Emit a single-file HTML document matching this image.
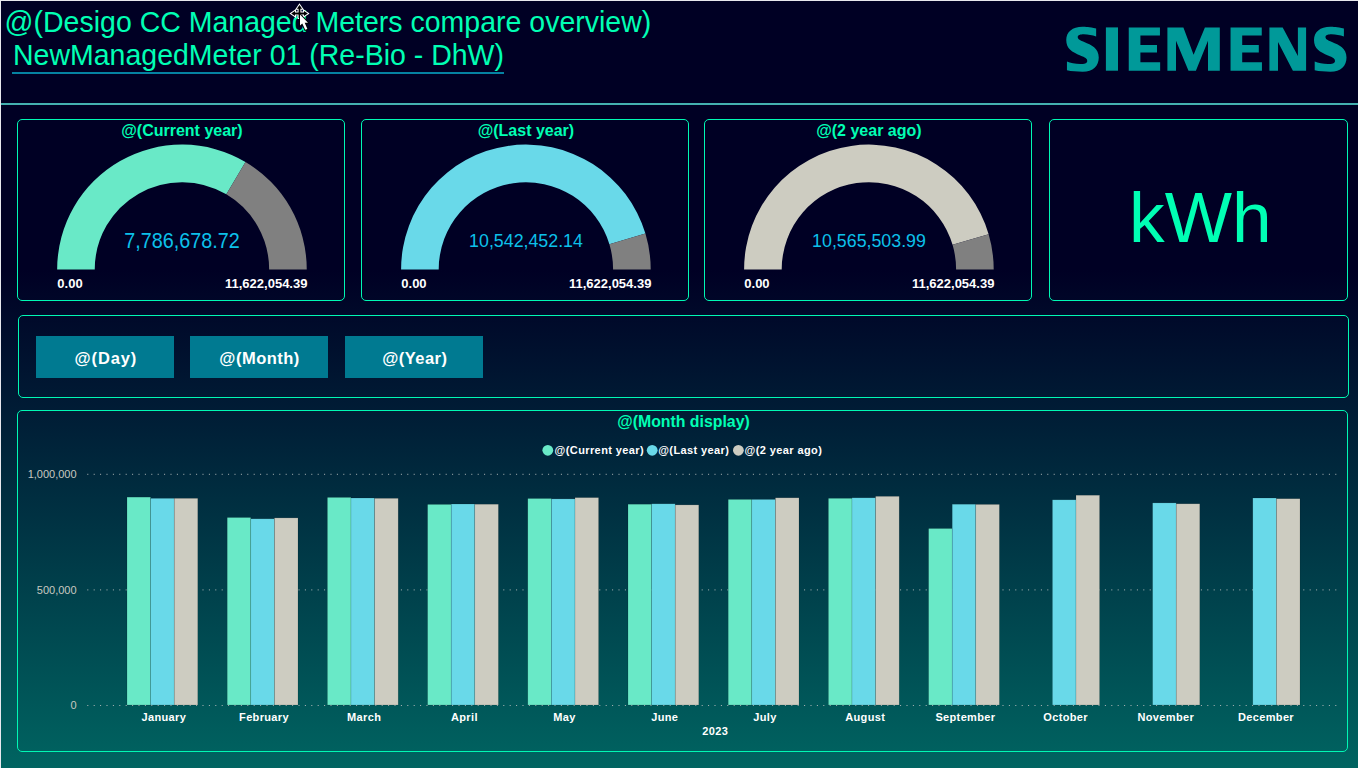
<!DOCTYPE html>
<html><head><meta charset="utf-8"><style>
html,body{margin:0;padding:0;}
body{width:1358px;height:768px;overflow:hidden;position:relative;font-family:"Liberation Sans",sans-serif;
background:linear-gradient(to bottom,#000024 0px,#000024 270px,#006461 768px);}
.edge-t{position:absolute;left:0;top:0;width:1358px;height:1px;background:#e8e8ee;}
.edge-l{position:absolute;left:0;top:0;width:1px;height:768px;background:#e8e8ee;}
.t1{position:absolute;left:4.6px;top:5px;font-size:28.5px;color:#00ffb4;white-space:nowrap;line-height:34px;transform:scaleY(1.05);transform-origin:0 27px;}
.t2{position:absolute;left:13px;top:38px;font-size:28.5px;color:#00ffb4;white-space:nowrap;line-height:34px;transform:scaleY(1.05);transform-origin:0 27px;}
.ul{position:absolute;left:12px;top:72px;width:492px;height:2px;background:#0582a2;}
.hr{position:absolute;left:1px;top:103px;width:1358px;height:2px;background:#44b0b0;}
.p{position:absolute;box-sizing:border-box;border:1px solid #00f8b4;border-radius:5px;}
svg{position:absolute;left:0;top:0;}
.gt{font:bold 16px "Liberation Sans",sans-serif;fill:#00ffb4;}
.gv{font:20px "Liberation Sans",sans-serif;fill:#0cc0ea;}
.gl{font:bold 13px "Liberation Sans",sans-serif;fill:#fff;}
.kwh{font:71.3px "Liberation Sans",sans-serif;fill:#00ffb4;}
.bt{font:bold 16.5px "Liberation Sans",sans-serif;fill:#fff;}
.ct{font:bold 15.85px "Liberation Sans",sans-serif;fill:#00ffb4;}
.lg{font:bold 11px "Liberation Sans",sans-serif;fill:#fff;letter-spacing:0.4px}
.yl{font:11px "Liberation Sans",sans-serif;fill:#c8c8c0;}
.xl{font:bold 11px "Liberation Sans",sans-serif;fill:#fff;letter-spacing:0.35px}
</style></head><body>
<div class="edge-t"></div><div class="edge-l"></div>
<div class="t1">@(Desigo CC Managed Meters compare overview)</div>
<div class="t2">NewManagedMeter 01 (Re-Bio - DhW)</div>
<div class="ul"></div>
<div class="hr"></div>
<div class="p" style="left:17px;top:119px;width:328px;height:182px"></div>
<div class="p" style="left:361px;top:119px;width:328px;height:182px"></div>
<div class="p" style="left:704px;top:119px;width:328px;height:182px"></div>
<div class="p" style="left:1049px;top:119px;width:299px;height:182px"></div>
<div class="p" style="left:18px;top:315px;width:1331px;height:83px"></div>
<div class="p" style="left:17px;top:410px;width:1331px;height:342px"></div>
<svg width="1358" height="768" viewBox="0 0 1358 768">
<path d="M57.15,269.40 A124.8,124.8 0 0 1 245.48,161.98 L226.34,194.34 A87.2,87.2 0 0 0 94.75,269.40 Z" fill="#69e9c7"/>
<path d="M245.48,161.98 A124.8,124.8 0 0 1 306.75,269.40 L269.15,269.40 A87.2,87.2 0 0 0 226.34,194.34 Z" fill="#808080"/>
<text x="181.95" y="135.5" class="gt" text-anchor="middle">@(Current year)</text>
<text x="182.04999999999998" y="248" class="gv" style="font-size:19.8px" text-anchor="middle" transform="translate(0,248) scale(1,1.07) translate(0,-248)">7,786,678.72</text>
<text x="57.349999999999994" y="288" class="gl">0.00</text>
<text x="307.45" y="288" class="gl" text-anchor="end">11,622,054.39</text>
<path d="M401.10,269.40 A124.8,124.8 0 0 1 645.42,233.49 L609.41,244.31 A87.2,87.2 0 0 0 438.70,269.40 Z" fill="#69d9e9"/>
<path d="M645.42,233.49 A124.8,124.8 0 0 1 650.70,269.40 L613.10,269.40 A87.2,87.2 0 0 0 609.41,244.31 Z" fill="#808080"/>
<text x="525.9" y="135.5" class="gt" text-anchor="middle">@(Last year)</text>
<text x="526.0" y="247" class="gv" style="font-size:17.8px" text-anchor="middle" transform="translate(0,247) scale(1,1.07) translate(0,-247)">10,542,452.14</text>
<text x="401.29999999999995" y="288" class="gl">0.00</text>
<text x="651.4" y="288" class="gl" text-anchor="end">11,622,054.39</text>
<path d="M744.10,269.40 A124.8,124.8 0 0 1 988.64,234.24 L952.57,244.83 A87.2,87.2 0 0 0 781.70,269.40 Z" fill="#cdccc1"/>
<path d="M988.64,234.24 A124.8,124.8 0 0 1 993.70,269.40 L956.10,269.40 A87.2,87.2 0 0 0 952.57,244.83 Z" fill="#808080"/>
<text x="868.9" y="135.5" class="gt" text-anchor="middle">@(2 year ago)</text>
<text x="869.0" y="247" class="gv" style="font-size:17.8px" text-anchor="middle" transform="translate(0,247) scale(1,1.07) translate(0,-247)">10,565,503.99</text>
<text x="744.3000000000001" y="288" class="gl">0.00</text>
<text x="994.4" y="288" class="gl" text-anchor="end">11,622,054.39</text>
<text x="1200.3" y="242" class="kwh" text-anchor="middle">kWh</text>
<rect x="36" y="336" width="138" height="42" fill="#007a91"/>
<text x="105.9" y="364" class="bt" text-anchor="middle" style="letter-spacing:0.9px">@(Day)</text>
<rect x="190" y="336" width="138" height="42" fill="#007a91"/>
<text x="259.6" y="364" class="bt" text-anchor="middle" style="letter-spacing:0.5px">@(Month)</text>
<rect x="345" y="336" width="138" height="42" fill="#007a91"/>
<text x="414.8" y="364" class="bt" text-anchor="middle" style="letter-spacing:0.45px">@(Year)</text>
<text x="683.5" y="427" class="ct" text-anchor="middle">@(Month display)</text>
<circle cx="547.8" cy="450.3" r="5.4" fill="#69e9c7"/>
<text x="554.6" y="454.1" class="lg">@(Current year)</text>
<circle cx="652.2" cy="450.3" r="5.4" fill="#69d9e9"/>
<text x="658.2" y="454.1" class="lg">@(Last year)</text>
<circle cx="738.4" cy="450.3" r="5.4" fill="#cdccc1"/>
<text x="744.6" y="454.1" class="lg">@(2 year ago)</text>
<text x="76.6" y="478" class="yl" text-anchor="end">1,000,000</text>
<line x1="87.3" y1="474.3" x2="1341" y2="474.3" stroke="#b0b8b8" stroke-width="1" stroke-dasharray="1 5.4"/>
<text x="76.6" y="594" class="yl" text-anchor="end">500,000</text>
<line x1="87.3" y1="589.9" x2="1341" y2="589.9" stroke="#b0b8b8" stroke-width="1" stroke-dasharray="1 5.4"/>
<text x="76.6" y="709" class="yl" text-anchor="end">0</text>
<line x1="87.3" y1="705.5" x2="1341" y2="705.5" stroke="#b0b8b8" stroke-width="1" stroke-dasharray="1 5.4"/>
<rect x="127.00" y="497.1" width="23.6" height="207.9" fill="#69e9c7" stroke="rgba(0,0,0,0.25)" stroke-width="0.5"/>
<rect x="150.60" y="498.3" width="23.6" height="206.7" fill="#69d9e9" stroke="rgba(0,0,0,0.25)" stroke-width="0.5"/>
<rect x="174.20" y="498.3" width="23.6" height="206.7" fill="#cdccc1" stroke="rgba(0,0,0,0.25)" stroke-width="0.5"/>
<text x="163.8" y="721" class="xl" text-anchor="middle">January</text>
<rect x="227.20" y="517.5" width="23.6" height="187.5" fill="#69e9c7" stroke="rgba(0,0,0,0.25)" stroke-width="0.5"/>
<rect x="250.80" y="518.8" width="23.6" height="186.2" fill="#69d9e9" stroke="rgba(0,0,0,0.25)" stroke-width="0.5"/>
<rect x="274.40" y="517.9" width="23.6" height="187.1" fill="#cdccc1" stroke="rgba(0,0,0,0.25)" stroke-width="0.5"/>
<text x="264.0" y="721" class="xl" text-anchor="middle">February</text>
<rect x="327.40" y="497.4" width="23.6" height="207.6" fill="#69e9c7" stroke="rgba(0,0,0,0.25)" stroke-width="0.5"/>
<rect x="351.00" y="498" width="23.6" height="207.0" fill="#69d9e9" stroke="rgba(0,0,0,0.25)" stroke-width="0.5"/>
<rect x="374.60" y="498.3" width="23.6" height="206.7" fill="#cdccc1" stroke="rgba(0,0,0,0.25)" stroke-width="0.5"/>
<text x="364.2" y="721" class="xl" text-anchor="middle">March</text>
<rect x="427.60" y="504.4" width="23.6" height="200.6" fill="#69e9c7" stroke="rgba(0,0,0,0.25)" stroke-width="0.5"/>
<rect x="451.20" y="504" width="23.6" height="201.0" fill="#69d9e9" stroke="rgba(0,0,0,0.25)" stroke-width="0.5"/>
<rect x="474.80" y="504.2" width="23.6" height="200.8" fill="#cdccc1" stroke="rgba(0,0,0,0.25)" stroke-width="0.5"/>
<text x="464.4" y="721" class="xl" text-anchor="middle">April</text>
<rect x="527.80" y="498.5" width="23.6" height="206.5" fill="#69e9c7" stroke="rgba(0,0,0,0.25)" stroke-width="0.5"/>
<rect x="551.40" y="498.9" width="23.6" height="206.1" fill="#69d9e9" stroke="rgba(0,0,0,0.25)" stroke-width="0.5"/>
<rect x="575.00" y="497.6" width="23.6" height="207.4" fill="#cdccc1" stroke="rgba(0,0,0,0.25)" stroke-width="0.5"/>
<text x="564.6" y="721" class="xl" text-anchor="middle">May</text>
<rect x="628.00" y="504.2" width="23.6" height="200.8" fill="#69e9c7" stroke="rgba(0,0,0,0.25)" stroke-width="0.5"/>
<rect x="651.60" y="503.8" width="23.6" height="201.2" fill="#69d9e9" stroke="rgba(0,0,0,0.25)" stroke-width="0.5"/>
<rect x="675.20" y="504.9" width="23.6" height="200.1" fill="#cdccc1" stroke="rgba(0,0,0,0.25)" stroke-width="0.5"/>
<text x="664.8" y="721" class="xl" text-anchor="middle">June</text>
<rect x="728.20" y="499.4" width="23.6" height="205.6" fill="#69e9c7" stroke="rgba(0,0,0,0.25)" stroke-width="0.5"/>
<rect x="751.80" y="499.4" width="23.6" height="205.6" fill="#69d9e9" stroke="rgba(0,0,0,0.25)" stroke-width="0.5"/>
<rect x="775.40" y="497.8" width="23.6" height="207.2" fill="#cdccc1" stroke="rgba(0,0,0,0.25)" stroke-width="0.5"/>
<text x="765.0" y="721" class="xl" text-anchor="middle">July</text>
<rect x="828.40" y="498.3" width="23.6" height="206.7" fill="#69e9c7" stroke="rgba(0,0,0,0.25)" stroke-width="0.5"/>
<rect x="852.00" y="497.8" width="23.6" height="207.2" fill="#69d9e9" stroke="rgba(0,0,0,0.25)" stroke-width="0.5"/>
<rect x="875.60" y="496.3" width="23.6" height="208.7" fill="#cdccc1" stroke="rgba(0,0,0,0.25)" stroke-width="0.5"/>
<text x="865.2" y="721" class="xl" text-anchor="middle">August</text>
<rect x="928.60" y="528.5" width="23.6" height="176.5" fill="#69e9c7" stroke="rgba(0,0,0,0.25)" stroke-width="0.5"/>
<rect x="952.20" y="504.2" width="23.6" height="200.8" fill="#69d9e9" stroke="rgba(0,0,0,0.25)" stroke-width="0.5"/>
<rect x="975.80" y="504.4" width="23.6" height="200.6" fill="#cdccc1" stroke="rgba(0,0,0,0.25)" stroke-width="0.5"/>
<text x="965.4" y="721" class="xl" text-anchor="middle">September</text>
<rect x="1052.40" y="499.8" width="23.6" height="205.2" fill="#69d9e9" stroke="rgba(0,0,0,0.25)" stroke-width="0.5"/>
<rect x="1076.00" y="495.2" width="23.6" height="209.8" fill="#cdccc1" stroke="rgba(0,0,0,0.25)" stroke-width="0.5"/>
<text x="1065.6" y="721" class="xl" text-anchor="middle">October</text>
<rect x="1152.60" y="502.9" width="23.6" height="202.1" fill="#69d9e9" stroke="rgba(0,0,0,0.25)" stroke-width="0.5"/>
<rect x="1176.20" y="503.8" width="23.6" height="201.2" fill="#cdccc1" stroke="rgba(0,0,0,0.25)" stroke-width="0.5"/>
<text x="1165.8" y="721" class="xl" text-anchor="middle">November</text>
<rect x="1252.80" y="498" width="23.6" height="207.0" fill="#69d9e9" stroke="rgba(0,0,0,0.25)" stroke-width="0.5"/>
<rect x="1276.40" y="498.7" width="23.6" height="206.3" fill="#cdccc1" stroke="rgba(0,0,0,0.25)" stroke-width="0.5"/>
<text x="1266.0" y="721" class="xl" text-anchor="middle">December</text>
<text x="715.2" y="735" class="xl" text-anchor="middle">2023</text>
<g fill="#009999"><rect x="1105.9" y="27.4" width="12.1" height="43.3"/>
<path d="M1128.75,27.4 H1159.95 V35.4 H1140.4 V45 H1157.0 V52.4 H1140.4 V62.2 H1160.15 V70.7 H1128.75 Z"/>
<path d="M1230.55,27.4 H1261.75 V35.4 H1242.2 V45 H1258.8 V52.4 H1242.2 V62.2 H1261.95 V70.7 H1230.55 Z"/>
<path d="M1167.4,27.4 H1183.4 L1193.6,54.8 L1204.9,27.4 H1219.8 V70.7 H1208 V40.7 L1195.9,70.7 H1188.5 L1176,40.7 V70.7 H1167.4 Z"/>
<path d="M1269.4,27.4 H1282.7 L1297.9,55.9 V27.4 H1306.1 V70.7 H1292.9 L1278,41.9 V70.7 H1269.4 Z"/>
<path transform="translate(-247.75,0)" d="M1343.9,28.4 C1337,27 1333,26.7 1330.4,26.7 C1320,26.7 1314,32 1314,40 C1314,49 1320,52 1328,55.5 C1333,57.5 1335,58.5 1335,61 C1335,63.5 1332,64 1328,64 C1323,64 1318,63 1314.7,61.6 L1314.7,70.3 C1319,71.3 1325,71.7 1330.4,71.7 C1341,71.7 1346.5,66 1346.5,57.5 C1346.5,48 1339,45 1332,42 C1327,40 1325.5,39 1325.5,37 C1325.5,35 1328,34.2 1331.5,34.2 C1336,34.2 1340,35.2 1343.9,36.4 Z"/>
<path transform="translate(0,0)" d="M1343.9,28.4 C1337,27 1333,26.7 1330.4,26.7 C1320,26.7 1314,32 1314,40 C1314,49 1320,52 1328,55.5 C1333,57.5 1335,58.5 1335,61 C1335,63.5 1332,64 1328,64 C1323,64 1318,63 1314.7,61.6 L1314.7,70.3 C1319,71.3 1325,71.7 1330.4,71.7 C1341,71.7 1346.5,66 1346.5,57.5 C1346.5,48 1339,45 1332,42 C1327,40 1325.5,39 1325.5,37 C1325.5,35 1328,34.2 1331.5,34.2 C1336,34.2 1340,35.2 1343.9,36.4 Z"/></g>
<g>
<path d="M299.5,5 L302.1,8.8 L300.4,8.8 L300.4,12.6 L304,12.6 L304,10.9 L307.8,13.5 L304,16.1 L304,14.4 L300.4,14.4 L300.4,18 L298.6,18 L298.6,14.4 L295,14.4 L295,16.1 L291.2,13.5 L295,10.9 L295,12.6 L298.6,12.6 L298.6,8.8 L296.9,8.8 Z" fill="#000" stroke="#fff" stroke-width="2" paint-order="stroke"/>
<path d="M300,14.5 L300,25.5 L302.3,23.5 L305.2,29.8 L307.4,28.9 L304.7,22.8 L308,22.8 Z" fill="#fff" stroke="#000" stroke-width="1.8" paint-order="stroke"/>
</g>

</svg>
</body></html>
